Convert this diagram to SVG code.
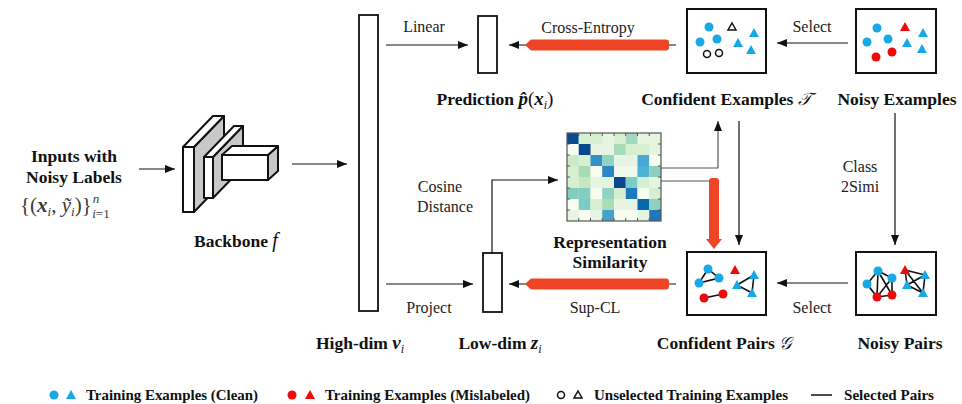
<svg xmlns="http://www.w3.org/2000/svg" width="962" height="404" viewBox="0 0 962 404">
<style>
text{font-family:"Liberation Serif","Times New Roman",serif;fill:#111}
.lb{font-size:17.5px;font-weight:bold;text-anchor:middle}
.rg{font-size:16px;fill:#222;text-anchor:middle}
.lg{font-size:15px;font-weight:bold}
.bi{font-weight:bold;font-style:italic}
.it{font-style:italic}
.ln{stroke:#111;stroke-width:1.2;fill:none}
.gl{stroke:#555;stroke-width:1.2;fill:none}
.bx{fill:#fff;stroke:#111;stroke-width:2}
.bar{fill:#fff;stroke:#111;stroke-width:1.8}
.red{fill:#ef4527}
.bc{fill:#17a8e6}
.rc{fill:#ee0a0a}
.hc{fill:#fff;stroke:#111;stroke-width:1.5}
.pl{stroke:#111;stroke-width:1.6}
.f{fill:#fff;stroke:#111;stroke-width:2;stroke-linejoin:round}
.g{fill:#c8c8c8;stroke:#111;stroke-width:2;stroke-linejoin:round}
</style>
<defs>
<marker id="ah" viewBox="0 0 10 8" refX="10" refY="4" markerWidth="10" markerHeight="8" markerUnits="userSpaceOnUse" orient="auto">
<path d="M0,0 L10,4 L0,8 Z" fill="#111"/>
</marker>
<polygon id="tri" points="0,-5 5,4 -5,4"/>
</defs>

<g id="inputs">
<text class="lb" x="74" y="162">Inputs with</text>
<text class="lb" x="74" y="183">Noisy Labels</text>
<text x="20" y="212" font-size="21" style="fill:#3a3a3a">{(<tspan class="bi">x</tspan><tspan class="it" font-size="13" dy="4">i</tspan><tspan dy="-4">, </tspan><tspan class="it">ỹ</tspan><tspan class="it" font-size="13" dy="4">i</tspan><tspan dy="-4">)}</tspan><tspan class="it" font-size="13" dx="1" dy="-9">n</tspan><tspan font-size="13" dx="-7" dy="15"><tspan class="it">i</tspan>=1</tspan></text>
</g>

<g id="backbone">
<polygon class="g" points="194,147 224,116 224,181 194,212"/>
<polygon class="f" points="183,147 213,116 224,116 194,147"/>
<rect class="f" x="183" y="147" width="11" height="65"/>
<polygon class="g" points="213,157 243,126 243,167 213,198"/>
<polygon class="f" points="204,157 234,126 243,126 213,157"/>
<rect class="f" x="204" y="157" width="9" height="41"/>
<polygon class="g" points="268,155 278,146 278,171 268,180"/>
<polygon class="f" points="222,155 232,146 278,146 268,155"/>
<rect class="f" x="222" y="155" width="46" height="25"/>
<text class="lb" x="236" y="247">Backbone <tspan class="it" font-weight="normal" font-size="20">f</tspan></text>
</g>

<g id="highdim">
<rect class="bar" x="359" y="15" width="19" height="296"/>
<text class="lb" x="360" y="349">High-dim  <tspan class="bi" font-size="19">v</tspan><tspan class="it" font-weight="normal" font-size="12" dy="4">i</tspan></text>
</g>

<g id="prediction">
<rect class="bar" x="478" y="16" width="19" height="57"/>
<text class="lb" x="495" y="105">Prediction  <tspan class="bi" font-size="19">p̂</tspan><tspan font-weight="normal" font-size="19">(</tspan><tspan class="bi" font-size="19">x</tspan><tspan class="it" font-weight="normal" font-size="12" dy="4">i</tspan><tspan font-weight="normal" font-size="19" dy="-4">)</tspan></text>
</g>

<g id="lowdim">
<rect class="bar" x="483" y="253" width="19" height="59"/>
<text class="lb" x="500" y="349">Low-dim  <tspan class="bi" font-size="19">z</tspan><tspan class="it" font-weight="normal" font-size="12" dy="4">i</tspan></text>
</g>

<g id="similarity">
<g stroke="none">
<rect x="567" y="133" width="94" height="88" fill="#e6f5e1"/>
<!-- row 0 -->
<rect x="567" y="133" width="11.75" height="11" fill="#0a4a90"/>
<rect x="578.75" y="133" width="11.75" height="11" fill="#d6efd0"/>
<rect x="590.5" y="133" width="11.75" height="11" fill="#d6efd0"/>
<rect x="614" y="133" width="11.75" height="11" fill="#d6efd0"/>
<rect x="625.75" y="133" width="11.75" height="11" fill="#9fd9c0"/>
<!-- row 1 -->
<rect x="567" y="144" width="11.75" height="11" fill="#f7fcf0"/>
<rect x="578.75" y="144" width="11.75" height="11" fill="#08468f"/>
<rect x="614" y="144" width="11.75" height="11" fill="#a6dcb8"/>
<rect x="625.75" y="144" width="11.75" height="11" fill="#d6efd0"/>
<rect x="637.5" y="144" width="11.75" height="11" fill="#d6efd0"/>
<!-- row 2 -->
<rect x="567" y="155" width="11.75" height="11" fill="#cdeac6"/>
<rect x="578.75" y="155" width="11.75" height="11" fill="#d6efd0"/>
<rect x="590.5" y="155" width="11.75" height="11" fill="#3690c8"/>
<rect x="602.25" y="155" width="11.75" height="11" fill="#8fd4c1"/>
<rect x="637.5" y="155" width="11.75" height="11" fill="#4ba6d4"/>
<rect x="649.25" y="155" width="11.75" height="11" fill="#f7fcf0"/>
<!-- row 3 -->
<rect x="567" y="166" width="11.75" height="11" fill="#d6efd0"/>
<rect x="578.75" y="166" width="11.75" height="11" fill="#a6dcb4"/>
<rect x="590.5" y="166" width="11.75" height="11" fill="#f7fcf0"/>
<rect x="602.25" y="166" width="11.75" height="11" fill="#2c85c4"/>
<rect x="614" y="166" width="11.75" height="11" fill="#f0f9eb"/>
<rect x="625.75" y="166" width="11.75" height="11" fill="#f0f9eb"/>
<rect x="637.5" y="166" width="11.75" height="11" fill="#4db3d6"/>
<rect x="649.25" y="166" width="11.75" height="11" fill="#8ecfc0"/>
<!-- row 4 -->
<rect x="567" y="177" width="11.75" height="11" fill="#d6efd0"/>
<rect x="578.75" y="177" width="11.75" height="11" fill="#c6e8c0"/>
<rect x="614" y="177" width="11.75" height="11" fill="#08488e"/>
<rect x="625.75" y="177" width="11.75" height="11" fill="#7bccc4"/>
<rect x="637.5" y="177" width="11.75" height="11" fill="#d6efd0"/>
<!-- row 5 -->
<rect x="567" y="188" width="11.75" height="11" fill="#7fcdbf"/>
<rect x="578.75" y="188" width="11.75" height="11" fill="#80cdc1"/>
<rect x="590.5" y="188" width="11.75" height="11" fill="#f7fcf0"/>
<rect x="602.25" y="188" width="11.75" height="11" fill="#8fd3c0"/>
<rect x="614" y="188" width="11.75" height="11" fill="#d6efd0"/>
<rect x="625.75" y="188" width="11.75" height="11" fill="#1d79bd"/>
<rect x="637.5" y="188" width="11.75" height="11" fill="#f7fcf0"/>
<rect x="649.25" y="188" width="11.75" height="11" fill="#d6efd0"/>
<!-- row 6 -->
<rect x="567" y="199" width="11.75" height="11" fill="#f7fcf0"/>
<rect x="578.75" y="199" width="11.75" height="11" fill="#7bccc4"/>
<rect x="590.5" y="199" width="11.75" height="11" fill="#d6efd0"/>
<rect x="602.25" y="199" width="11.75" height="11" fill="#a8ddb5"/>
<rect x="637.5" y="199" width="11.75" height="11" fill="#0868ac"/>
<rect x="649.25" y="199" width="11.75" height="11" fill="#8fd0c0"/>
<!-- row 7 -->
<rect x="578.75" y="210" width="11.75" height="11" fill="#f7fcf0"/>
<rect x="602.25" y="210" width="11.75" height="11" fill="#43a2ca"/>
<rect x="614" y="210" width="11.75" height="11" fill="#f7fcf0"/>
<rect x="625.75" y="210" width="11.75" height="11" fill="#f7fcf0"/>
<rect x="649.25" y="210" width="11.75" height="11" fill="#1f78b8"/>
</g>
<rect x="567" y="133" width="94" height="88" fill="none" stroke="#555" stroke-width="1.2"/>
<path stroke="#555" stroke-width="1" d="M578.75,133v3M590.5,133v3M602.25,133v3M614,133v3M625.75,133v3M637.5,133v3M649.25,133v3M578.75,221v-3M590.5,221v-3M602.25,221v-3M614,221v-3M625.75,221v-3M637.5,221v-3M649.25,221v-3M567,144h3M567,155h3M567,166h3M567,177h3M567,188h3M567,199h3M567,210h3M661,144h-3M661,155h-3M661,166h-3M661,177h-3M661,188h-3M661,199h-3M661,210h-3"/>
<text class="lb" x="610" y="248">Representation</text>
<text class="lb" x="610" y="268">Similarity</text>
</g>

<g id="confident-examples">
<rect class="bx" x="687" y="9" width="79" height="64"/>
<circle class="bc" cx="709" cy="27" r="4.5"/>
<circle class="bc" cx="700" cy="42" r="4.5"/>
<circle class="bc" cx="717" cy="39" r="4.5"/>
<circle class="hc" cx="707" cy="54" r="3.5"/>
<circle class="hc" cx="719" cy="53" r="3.5"/>
<polygon points="732,23 736,30 728,30" fill="#fff" stroke="#111" stroke-width="1.5"/>
<use href="#tri" x="754" y="33" class="bc"/>
<use href="#tri" x="738" y="43" class="bc"/>
<use href="#tri" x="751" y="50" class="bc"/>
<text class="lb" x="726" y="105">Confident Examples <tspan class="it" font-weight="normal" font-family="DejaVu Serif, serif">𝒯</tspan></text>
</g>

<g id="noisy-examples">
<rect class="bx" x="856" y="9" width="80" height="64"/>
<circle class="bc" cx="877" cy="28" r="4.5"/>
<circle class="bc" cx="867" cy="42" r="4.5"/>
<circle class="bc" cx="888" cy="39" r="4.5"/>
<circle class="rc" cx="876" cy="57" r="4.5"/>
<circle class="rc" cx="892" cy="52" r="4.5"/>
<use href="#tri" x="905" y="27" class="rc"/>
<use href="#tri" x="923" y="33" class="bc"/>
<use href="#tri" x="907" y="43" class="bc"/>
<use href="#tri" x="922" y="49" class="bc"/>
<text class="lb" x="897" y="105">Noisy Examples</text>
</g>

<g id="confident-pairs">
<rect class="bx" x="687" y="252" width="79" height="63"/>
<path class="pl" d="M708,269L699,283L719,278Z M704,298L723,294 M754,275L737,285L752,293Z" fill="none"/>
<circle class="bc" cx="708" cy="269" r="4.5"/>
<circle class="bc" cx="699" cy="283" r="4.5"/>
<circle class="bc" cx="719" cy="278" r="4.5"/>
<circle class="rc" cx="704" cy="298" r="4.5"/>
<circle class="rc" cx="723" cy="294" r="4.5"/>
<use href="#tri" x="735" y="270" class="rc"/>
<use href="#tri" x="754" y="275" class="bc"/>
<use href="#tri" x="737" y="285" class="bc"/>
<use href="#tri" x="752" y="293" class="bc"/>
<text class="lb" x="724" y="349">Confident Pairs  <tspan class="it" font-weight="normal" font-family="DejaVu Serif, serif">𝒢</tspan></text>
</g>

<g id="noisy-pairs">
<rect class="bx" x="856" y="252" width="80" height="63"/>
<path class="pl" fill="none" d="M878,271L867,284M878,271L892,278M878,271L877,297M878,271L892,295M867,284L877,297M892,278L892,295M877,297L892,295M892,278L877,297M905,270L925,275M905,270L907,285M905,270L923,293M925,275L907,285M925,275L923,293M907,285L923,293"/>
<circle class="bc" cx="878" cy="271" r="4.5"/>
<circle class="bc" cx="867" cy="284" r="4.5"/>
<circle class="bc" cx="892" cy="278" r="4.5"/>
<circle class="rc" cx="877" cy="297" r="4.5"/>
<circle class="rc" cx="892" cy="295" r="4.5"/>
<use href="#tri" x="905" y="270" class="rc"/>
<use href="#tri" x="925" y="275" class="bc"/>
<use href="#tri" x="907" y="285" class="bc"/>
<use href="#tri" x="923" y="293" class="bc"/>
<text class="lb" x="900" y="349">Noisy Pairs</text>
</g>

<g id="connectors">
<line class="ln" x1="139" y1="169" x2="175" y2="169" marker-end="url(#ah)"/>
<line class="ln" x1="292" y1="164" x2="347" y2="164" marker-end="url(#ah)"/>
<line class="ln" x1="386" y1="45" x2="468" y2="45" marker-end="url(#ah)"/>
<line class="ln" x1="386" y1="284" x2="473" y2="284" marker-end="url(#ah)"/>
<line class="ln" x1="676" y1="45" x2="509" y2="45" marker-end="url(#ah)"/>
<line class="ln" x1="676" y1="284" x2="509" y2="284" marker-end="url(#ah)"/>
<path class="red" d="M525,45 L531,39.5 H666 Q669,39.5 669,42.5 V47.5 Q669,50.5 666,50.5 H531 Z"/>
<path class="red" d="M525,284 L531,278.5 H666 Q669,278.5 669,281.5 V286.5 Q669,289.5 666,289.5 H531 Z"/>
<path class="ln" d="M492,253 V180 H558" marker-end="url(#ah)"/>
<path class="gl" d="M661,168 H718 V121" marker-end="url(#ah)"/>
<path class="gl" d="M661,181 H714 V246" marker-end="url(#ah)"/>
<path class="red" d="M709,181 Q709,178 712,178 H716 Q719,178 719,181 V239 L722,239 L714,249 L706,239 L709,239 Z"/>
<line class="ln" x1="739" y1="121" x2="739" y2="245" marker-end="url(#ah)"/>
<line class="ln" x1="895" y1="113" x2="895" y2="245" marker-end="url(#ah)"/>
<line class="ln" x1="848" y1="43" x2="777" y2="43" marker-end="url(#ah)"/>
<line class="ln" x1="848" y1="283" x2="777" y2="283" marker-end="url(#ah)"/>
<text class="rg" x="424" y="32">Linear</text>
<text class="rg" x="588" y="33">Cross-Entropy</text>
<text class="rg" x="812" y="32">Select</text>
<text class="rg" x="440" y="192">Cosine</text>
<text class="rg" x="445" y="212">Distance</text>
<text class="rg" x="429" y="313">Project</text>
<text class="rg" x="595" y="313">Sup-CL</text>
<text class="rg" x="812" y="313">Select</text>
<text class="rg" x="860" y="172">Class</text>
<text class="rg" x="860" y="192">2Simi</text>
</g>

<g id="legend">
<circle class="bc" cx="54" cy="395" r="4.5"/>
<use href="#tri" x="71" y="395" class="bc"/>
<text class="lg" x="86" y="400" textLength="172" lengthAdjust="spacingAndGlyphs">Training Examples (Clean)</text>
<circle class="rc" cx="292" cy="395" r="4.5"/>
<use href="#tri" x="310" y="395" class="rc"/>
<text class="lg" x="325" y="400" textLength="205" lengthAdjust="spacingAndGlyphs">Training Examples (Mislabeled)</text>
<circle class="hc" cx="561" cy="395" r="3.5"/>
<polygon points="578,391 582,398 574,398" fill="#fff" stroke="#111" stroke-width="1.5"/>
<text class="lg" x="594" y="400" textLength="194" lengthAdjust="spacingAndGlyphs">Unselected Training Examples</text>
<line x1="811" y1="395" x2="832" y2="395" stroke="#111" stroke-width="1.5"/>
<text class="lg" x="844" y="400" textLength="90" lengthAdjust="spacingAndGlyphs">Selected Pairs</text>
</g>
</svg>
